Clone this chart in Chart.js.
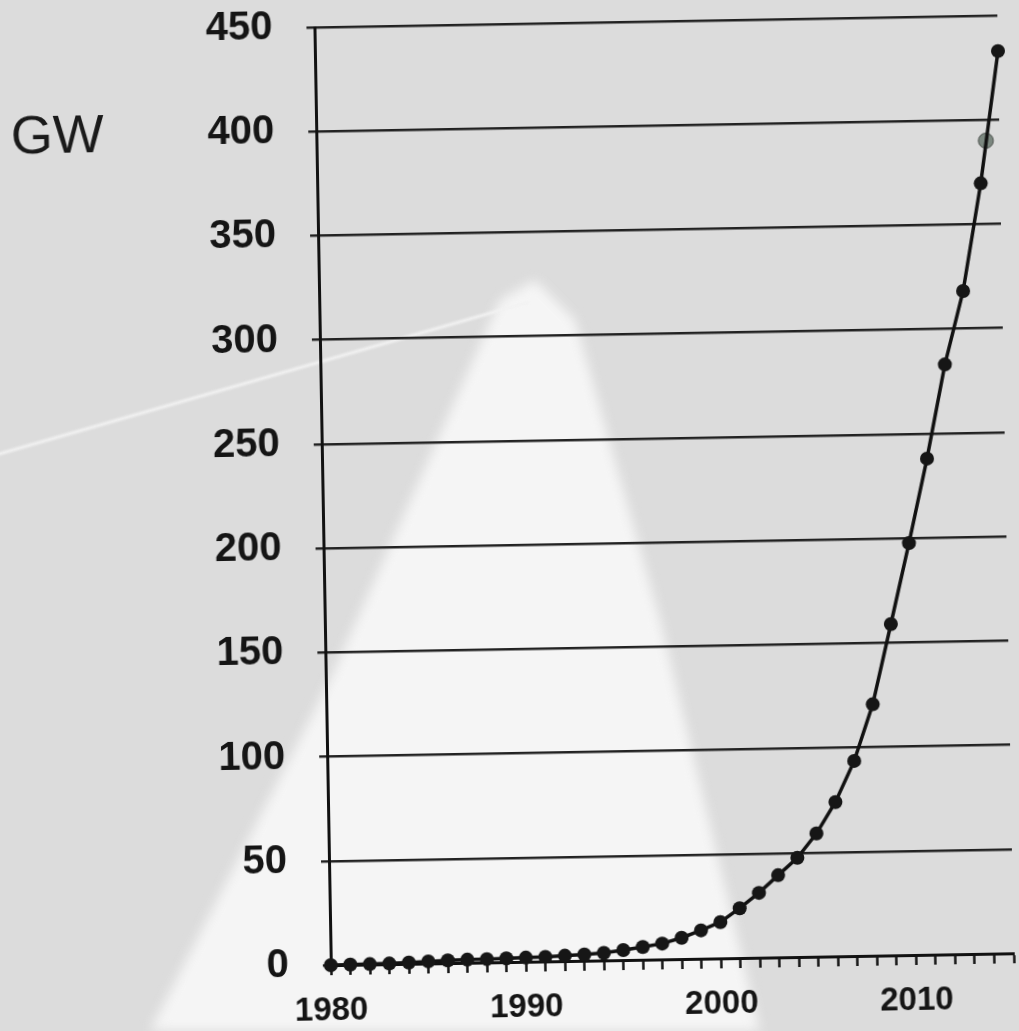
<!DOCTYPE html>
<html>
<head>
<meta charset="utf-8">
<script src="https://cdn.jsdelivr.net/npm/chart.js@4/dist/chart.umd.min.js"></script>
<style>
html,body{margin:0;padding:0;width:1019px;height:1031px;overflow:hidden;background:#dcdcdc;}
#glowWrap{position:absolute;left:0;top:0;width:1019px;height:1031px;filter:blur(6px);}
#glow{position:absolute;left:0;top:0;width:1019px;height:1031px;background:#f5f5f5;
  clip-path:polygon(150px 1031px,330px 680px,500px 300px,535px 280px,575px 320px,660px 620px,760px 1031px);}
#streak{position:absolute;left:-10px;top:455px;width:560px;height:3px;background:#f2f2f2;transform-origin:0 0;transform:rotate(-16deg);filter:blur(1px);}
#wrap{position:absolute;left:0;top:0;width:1019px;height:1031px;transform:rotate(-1deg);transform-origin:50% 50%;}
canvas{display:block;}
</style>
</head>
<body>
<div id="glowWrap"><div id="glow"></div></div>
<div id="streak"></div>
<div id="wrap"><canvas id="c" width="1019" height="1031"></canvas></div>
<script>
const years = [1980,1981,1982,1983,1984,1985,1986,1987,1988,1989,
               1990,1991,1992,1993,1994,1995,1996,1997,1998,1999,
               2000,2001,2002,2003,2004,2005,2006,2007,2008,2009,
               2010,2011,2012,2013,2014,2015];
const capacityGW = [0.0,0.1,0.2,0.3,0.6,1.0,1.3,1.5,1.6,1.8,
                    2.0,2.2,2.6,3.0,3.6,4.8,6.1,7.6,10.2,13.6,
                    17.4,23.9,31.1,39.4,47.6,59.1,74.0,93.6,120.6,158.9,
                    197.6,238.0,283.0,318.1,369.6,432.9];
const markerYear = [2014.3];
const markerGW = [390];
const yTickValues = [0,50,100,150,200,250,300,350,400,450];
const xLabelYears = [1980,1990,2000,2010];
const unitLabel = 'GW';

const unitPlugin = {
  id:'unitLabel',
  afterDraw(chart){
    const c = chart.ctx;
    c.save();
    c.font = '54px "Liberation Sans", Arial, sans-serif';
    c.fillStyle = '#1a1a1a';
    c.textAlign = 'center';
    c.textBaseline = 'middle';
    c.fillText(unitLabel, 64, chart.scales.y.getPixelForValue(400) + 2);
    c.restore();
  }
};

new Chart(document.getElementById('c'), {
  type:'line',
  data:{
    datasets:[
      {
        data: years.map((yr,i)=>({x:yr, y:capacityGW[i]})),
        borderColor:'#111',
        borderWidth:3.5,
        tension:0,
        pointRadius:7,
        pointBackgroundColor:'#161616',
        pointBorderColor:'#161616',
        pointBorderWidth:0,
        clip:false
      },
      {
        data: markerYear.map((yr,i)=>({x:yr, y:markerGW[i]})),
        showLine:false,
        pointRadius:7.5,
        pointBackgroundColor:'#7b877f',
        pointBorderColor:'#4a4f4b',
        pointBorderWidth:1,
        clip:false
      }
    ]
  },
  options:{
    responsive:false,
    animation:false,
    layout:{padding:{left:0,right:13,top:24,bottom:0}},
    plugins:{legend:{display:false},tooltip:{enabled:false},title:{display:false}},
    scales:{
      x:{
        type:'linear', min:1980, max:2015,
        afterBuildTicks:(s)=>{ s.ticks = years.map(v=>({value:v})); },
        afterFit:(s)=>{ s.height = 69; s.paddingLeft = 0; s.paddingRight = 0; },
        ticks:{
          autoSkip:false, maxRotation:0, minRotation:0, padding:16,
          callback:(v)=> xLabelYears.includes(v) ? String(v) : '',
          font:{family:'"Liberation Sans", Arial, sans-serif', size:33, weight:'bold'},
          color:'#151515'
        },
        grid:{drawOnChartArea:false, drawTicks:true, tickLength:10, tickColor:'#151515', tickWidth:2.5},
        border:{display:true, color:'#111', width:3}
      },
      y:{
        min:0, max:450,
        afterBuildTicks:(s)=>{ s.ticks = yTickValues.map(v=>({value:v})); },
        afterFit:(s)=>{ s.width = 323; s.paddingTop = 0; s.paddingBottom = 0; },
        ticks:{
          padding:34,
          font:{family:'"Liberation Sans", Arial, sans-serif', size:40, weight:'bold'},
          color:'#151515'
        },
        grid:{color:'#222', lineWidth:2.5, tickLength:8, tickColor:'#222'},
        border:{display:true, color:'#111', width:3}
      }
    }
  },
  plugins:[unitPlugin]
});
</script>
</body>
</html>
